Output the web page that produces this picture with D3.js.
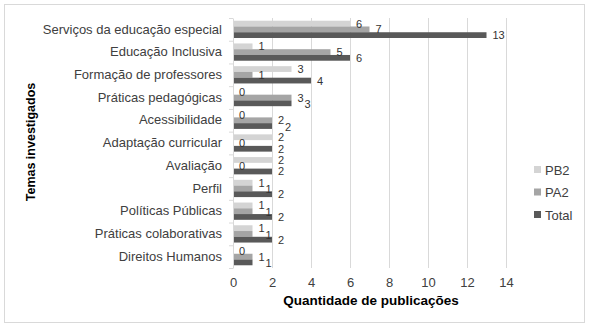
<!DOCTYPE html>
<html>
<head>
<meta charset="utf-8">
<script src="https://cdn.jsdelivr.net/npm/d3@7"></script>
<style>
  body { margin: 0; background: #fff; }
  text { font-family: "Liberation Sans", Arial, sans-serif; }
</style>
</head>
<body>
<div id="chart"></div>
<script>
const FRAME_WIDTH = 589;
const FRAME_HEIGHT = 328;
const MARGINS = {left: 233, top: 18};

//categories, top to bottom
const temas = ["Serviços da educação especial", "Educação Inclusiva", "Formação de professores",
  "Práticas pedagógicas", "Acessibilidade", "Adaptação curricular", "Avaliação", "Perfil",
  "Políticas Públicas", "Práticas colaborativas", "Direitos Humanos"];

const series = ["PB2", "PA2", "Total"];
const pb2 = [6, 1, 3, 0, 0, 2, 2, 1, 1, 1, 0];
const pa2 = [7, 5, 1, 3, 2, 0, 0, 1, 1, 1, 1];
const total = [13, 6, 4, 3, 2, 2, 2, 2, 2, 2, 1];
const xTicks = [0, 2, 4, 6, 8, 10, 12, 14];

const COLORS = {PB2: "#d4d4d4", PA2: "#a5a5a5", Total: "#595959"};

//rows for drawing, with a flag when the label would sit on top of the previous one
const rows = [];
temas.forEach((t, i) => {
  const vals = [pb2[i], pa2[i], total[i]];
  series.forEach((s, j) => {
    const shift = (j > 0 && vals[j] !== 0 && vals[j] === vals[j - 1]) ? 7 : 0;
    rows.push({tema: t, serie: s, value: vals[j], shift: shift});
  });
});

const FRAME = d3.select("#chart")
  .append("svg")
    .attr("width", FRAME_WIDTH)
    .attr("height", FRAME_HEIGHT);

//outer border
FRAME.append("rect")
  .attr("x", 4.5).attr("y", 4.5)
  .attr("width", 580).attr("height", 318)
  .attr("fill", "#fff")
  .attr("stroke", "#d9d9d9");

const X_SCALE = d3.scaleLinear().domain([0, 14]).range([0, 273]);
const Y_SCALE = d3.scaleBand().domain(temas).range([0, 250]);
const Y_INNER = d3.scaleBand().domain(series).range([Y_SCALE.bandwidth() * 0.12, Y_SCALE.bandwidth() * 0.88]);

const G = FRAME.append("g")
  .attr("transform", "translate(" + MARGINS.left + "," + MARGINS.top + ")");

//vertical gridlines
G.selectAll(".grid")
  .data(xTicks.slice(1))
  .enter()
  .append("line")
    .attr("x1", (d) => X_SCALE(d) + 0.5)
    .attr("x2", (d) => X_SCALE(d) + 0.5)
    .attr("y1", 0)
    .attr("y2", Y_SCALE.range()[1])
    .attr("stroke", "#d9d9d9");

//bars
G.selectAll(".bar")
  .data(rows)
  .enter()
  .append("rect")
    .attr("x", 0)
    .attr("y", (d) => Y_SCALE(d.tema) + Y_INNER(d.serie))
    .attr("width", (d) => X_SCALE(d.value))
    .attr("height", Y_INNER.bandwidth())
    .attr("fill", (d) => COLORS[d.serie]);

//value labels
G.selectAll(".lbl")
  .data(rows)
  .enter()
  .append("text")
    .attr("x", (d) => X_SCALE(d.value) + 6 + d.shift)
    .attr("y", (d) => Y_SCALE(d.tema) + Y_INNER(d.serie) + Y_INNER.bandwidth() / 2 + 4 + (d.shift ? 1 : 0))
    .attr("font-size", 11)
    .attr("fill", "#333")
    .text((d) => d.value);

//y axis
const yAxis = G.append("g")
  .call(d3.axisLeft(Y_SCALE).tickSize(0).tickPadding(11));
yAxis.select(".domain").attr("stroke", "#d9d9d9");
yAxis.selectAll("text")
  .attr("font-size", 13)
  .attr("fill", "#404040");

//small separator ticks between categories
G.selectAll(".sep")
  .data(temas.concat(["_end"]))
  .enter()
  .append("line")
    .attr("x1", -4).attr("x2", 0)
    .attr("y1", (d, i) => i * Y_SCALE.step() + 0.5)
    .attr("y2", (d, i) => i * Y_SCALE.step() + 0.5)
    .attr("stroke", "#d9d9d9");

//x axis labels
const xAxis = G.append("g")
  .attr("transform", "translate(0," + (Y_SCALE.range()[1] + 5) + ")")
  .call(d3.axisBottom(X_SCALE).tickValues(xTicks).tickSize(0).tickPadding(5));
xAxis.select(".domain").remove();
xAxis.selectAll("text")
  .attr("font-size", 13)
  .attr("fill", "#404040");

//axis titles
FRAME.append("text")
  .attr("x", 371).attr("y", 305)
  .attr("text-anchor", "middle")
  .attr("font-size", 13.5)
  .attr("font-weight", "bold")
  .attr("fill", "#000")
  .text("Quantidade de publicações");

FRAME.append("text")
  .attr("transform", "translate(35,142) rotate(-90)")
  .attr("text-anchor", "middle")
  .attr("font-size", 12.5)
  .attr("font-weight", "bold")
  .attr("fill", "#000")
  .text("Temas investigados");

//legend
const LEGEND = FRAME.append("g").attr("transform", "translate(534,170)");
series.forEach((s, i) => {
  LEGEND.append("rect")
    .attr("x", 0).attr("y", i * 22.5 - 4)
    .attr("width", 7).attr("height", 7)
    .attr("fill", COLORS[s]);
  LEGEND.append("text")
    .attr("x", 11).attr("y", i * 22.5 + 4.5)
    .attr("font-size", 13)
    .attr("fill", "#404040")
    .text(s);
});
</script>
</body>
</html>
